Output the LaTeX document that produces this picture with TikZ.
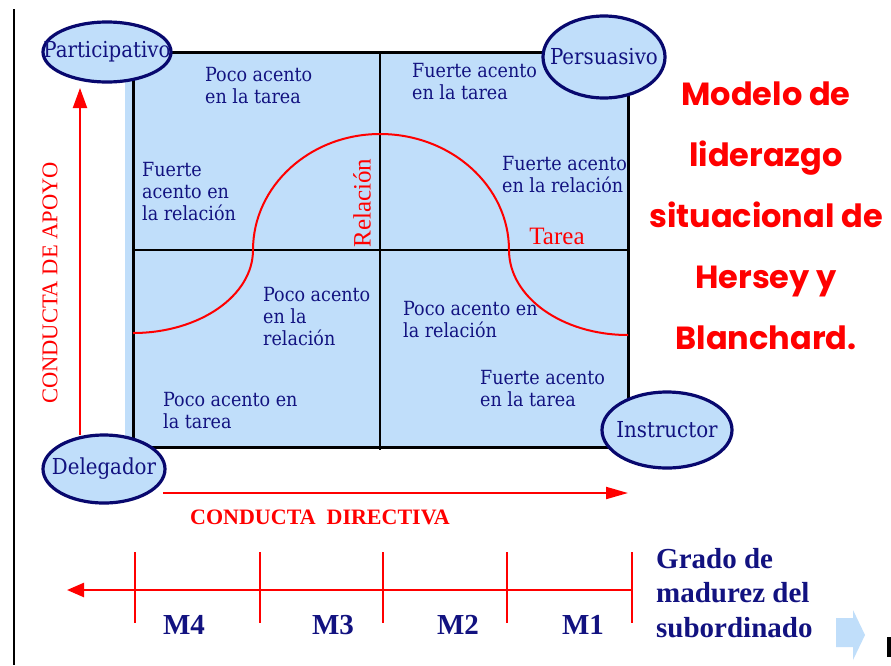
\documentclass[tikz,border=0pt]{standalone}
\usepackage{fontspec}
\setmainfont{Liberation Serif}
\newfontfamily\textofont{DejaVu Serif Condensed}
\newfontfamily\titulofont{Poppins}
\usetikzlibrary{shapes.geometric,arrows.meta}
\definecolor{azul}{RGB}{192,222,250}
\definecolor{marino}{RGB}{18,18,128}
\definecolor{borde}{RGB}{8,8,110}
\newcommand{\marca}[1]{\draw[rojo,line width=2.2pt] (#1,552) -- (#1,623);}

\begin{document}
\begin{tikzpicture}[x=1pt,y=-1pt,
  rojo/.style={draw=red},
  estilo/.style={ellipse,draw=borde,line width=3.2pt,fill=azul,inner sep=0pt,
    text=marino,font=\textofont\fontsize{22}{24}\selectfont},
  nota/.style={anchor=west,align=left,inner sep=0pt,text=marino,
    font=\textofont\fontsize{19.5}{22}\selectfont},
  eje/.style={text=red,inner sep=0pt,font=\fontsize{22.5}{26}\selectfont},
  madurez/.style={text=marino,inner sep=0pt,font=\bfseries\fontsize{29}{34.5}\selectfont}]
  \useasboundingbox (0,0) rectangle (891,665);
  \fill[white] (0,0) rectangle (891,665);
  \draw[line width=2pt] (14,9) -- (14,665);

  % cuadrante
  \fill[azul] (125,52) rectangle (628,447);
  \draw[line width=1.8pt] (380,52) -- (380,450);
  \draw[line width=1.8pt] (133,250) -- (628,250);
  \draw[line width=3pt] (133,52) rectangle (628,447);
  \draw[rojo,line width=2pt] (133,333) .. controls (199,333) and (253,296) .. (253,250)
    .. controls (253,186) and (310,134) .. (380,134)
    .. controls (451,134) and (509,186) .. (509,250)
    .. controls (509,297) and (562,335) .. (628,335);

  \node[nota] (tl1) at (205,86) {Poco acento\\en la tarea};
  \node[nota] (tl2) at (142,192) {Fuerte\\acento en\\la relación};
  \node[nota] (tr1) at (412,82) {Fuerte acento\\en la tarea};
  \node[nota] (tr2) at (502,175) {Fuerte acento\\en la relación};
  \node[nota] (bl1) at (263,317) {Poco acento\\en la\\relación};
  \node[nota] (bl2) at (163,411) {Poco acento en\\la tarea};
  \node[nota] (br1) at (403,320) {Poco acento en\\la relación};
  \node[nota] (br2) at (480,389) {Fuerte acento\\en la tarea};
  \node[text=red,inner sep=0pt,rotate=90,font=\fontsize{25}{28}\selectfont] (rel) at (362,203) {Relación};
  \node[text=red,inner sep=0pt,font=\fontsize{25}{28}\selectfont] (tar) at (557,236) {Tarea};

  \node[estilo,minimum width=128pt,minimum height=60pt] (part) at (107,52) {\makebox[0pt]{Participativo}};
  \node[estilo,minimum width=122pt,minimum height=82pt] (pers) at (604,57) {\makebox[0pt]{Persuasivo}};
  \node[estilo,minimum width=122pt,minimum height=68pt] (dele) at (104,469) {\makebox[0pt]{Delegador}};
  \node[estilo,minimum width=130pt,minimum height=76pt] (inst) at (667,430) {\makebox[0pt]{Instructor}};

  % ejes de conducta
  \coordinate (apoyo0) at (80,435);
  \coordinate (apoyo1) at (80,88);
  \coordinate (dir0) at (163,493);
  \coordinate (dir1) at (628,493);
  \draw[rojo,line width=2pt,-{Triangle[length=20pt,width=14pt]}] (apoyo0) -- (apoyo1);
  \draw[rojo,line width=2pt,-{Triangle[length=22pt,width=12pt]}] (dir0) -- (dir1);
  \node[eje,rotate=90] (apoyo) at (50,283) {CONDUCTA DE APOYO};
  \node[eje,font=\bfseries\fontsize{22}{26}\selectfont] (direc) at (320,517) {CONDUCTA\ \ DIRECTIVA};

  % escala de madurez
  \coordinate (m0) at (632,590);
  \coordinate (m1) at (67,590);
  \draw[rojo,line width=2.5pt,-{Triangle[length=17pt,width=14pt]}] (m0) -- (m1);
  \marca{135}
  \marca{260}
  \marca{383}
  \marca{507}
  \marca{632}
  \node[madurez] (M4) at (184,625) {M4};
  \node[madurez] (M3) at (333,625) {M3};
  \node[madurez] (M2) at (458,625) {M2};
  \node[madurez] (M1) at (583,625) {M1};
  \node[madurez,anchor=north west,align=left] (grado) at (656,548) {Grado de\\madurez del\\subordinado};
  \fill[azul] (836,618) -- (853,618) -- (853,610) -- (865,635) -- (853,660) -- (853,647) -- (836,647) -- cycle;
  \fill (887,637) rectangle (891,657);

  \node[text=red,align=center,inner sep=0pt,font=\titulofont\bfseries\fontsize{32}{61}\selectfont] (modelo) at (766,216)
    {Modelo de\\liderazgo\\situacional de\\Hersey y\\Blanchard.};
\end{tikzpicture}
\end{document}
